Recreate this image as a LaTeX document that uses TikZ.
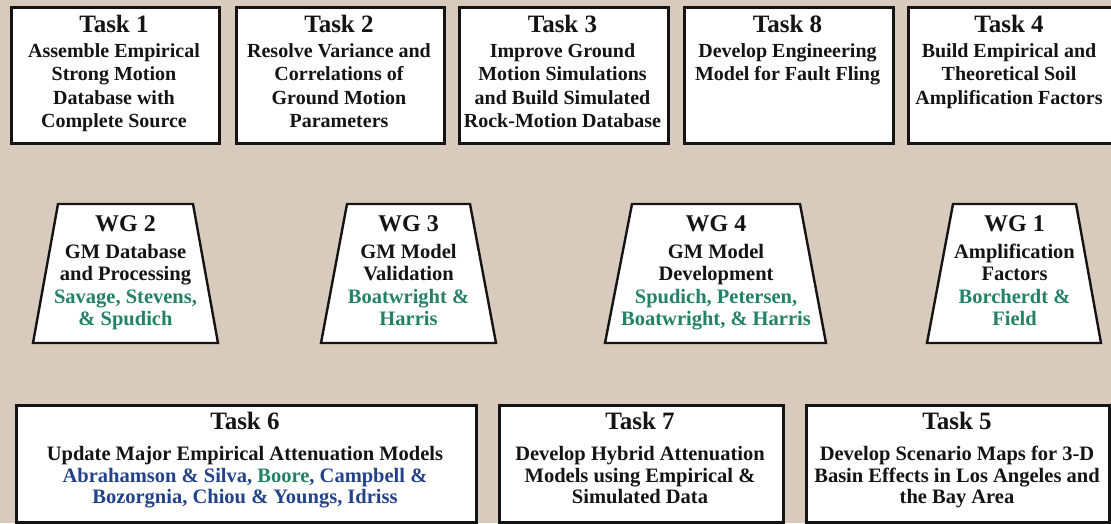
\documentclass[tikz,border=0pt]{standalone}
\usepackage{fontspec}
\setmainfont{Liberation Serif}
\definecolor{bgtan}{RGB}{216,202,188}
\definecolor{gmgreen}{RGB}{36,130,100}
\definecolor{gmblue}{RGB}{34,66,140}
\definecolor{ink}{RGB}{20,20,20}
\newcommand{\ttl}{\fontsize{25}{25}\selectfont}
\newcommand{\wgt}{\fontsize{24}{24}\selectfont}
\begin{document}
\begin{tikzpicture}[x=1pt,y=-1pt,
  box/.style={draw=ink,line width=2.6pt,fill=white,anchor=north west,inner sep=0pt},
  trap/.style={draw=ink,line width=2.4pt,fill=white,line join=miter},
  txt/.style={anchor=north,align=center,text=ink,inner sep=0pt,font=\bfseries\fontsize{20}{23.5}\selectfont},
  wtxt/.style={anchor=north,align=center,text=ink,inner sep=0pt,font=\bfseries\fontsize{20.5}{22.5}\selectfont},
  btxt/.style={anchor=north,align=center,text=ink,inner sep=0pt,font=\bfseries\fontsize{20.5}{21.5}\selectfont}]
\fill[bgtan] (0,0) rectangle (1111,523);
\useasboundingbox (0,0) rectangle (1111,523);
% top row
\node[box,minimum width=208pt,minimum height=136pt] (b1) at (10,6) {};
\node[box,minimum width=208pt,minimum height=136pt] (b2) at (235,6) {};
\node[box,minimum width=209pt,minimum height=136pt] (b3) at (458,6) {};
\node[box,minimum width=209pt,minimum height=136pt] (b8) at (683,6) {};
\node[box,minimum width=210pt,minimum height=136pt] (b4) at (907,6) {};
\node[txt] (t1) at (114,14.5) {{\ttl Task 1}\\[1.5pt]Assemble Empirical\\Strong Motion\\Database with\\Complete Source};
\node[txt] (t2) at (339,14.5) {{\ttl Task 2}\\[1.5pt]Resolve Variance and\\Correlations of\\Ground Motion\\Parameters};
\node[txt] (t3) at (562.5,14.5) {{\ttl Task 3}\\[1.5pt]Improve Ground\\Motion Simulations\\and Build Simulated\\Rock-Motion Database};
\node[txt] (t8) at (787.5,14.5) {{\ttl Task 8}\\[1.5pt]Develop Engineering\\Model for Fault Fling};
\node[txt] (t4) at (1009,14.5) {{\ttl Task 4}\\[1.5pt]Build Empirical and\\Theoretical Soil\\Amplification Factors};
% working groups
\draw[trap] (58,204) -- (193,204) -- (218,343) -- (33,343) -- cycle;
\draw[trap] (347,204) -- (470,204) -- (496,343) -- (321,343) -- cycle;
\draw[trap] (632,204) -- (800,204) -- (826,343) -- (605,343) -- cycle;
\draw[trap] (953,204) -- (1076,204) -- (1101,343) -- (927,343) -- cycle;
\node[wtxt] (w2) at (125.5,215) {{\wgt WG 2}\\[4.5pt]GM Database\\and Processing\\\textcolor{gmgreen}{Savage, Stevens,}\\\textcolor{gmgreen}{\& Spudich}};
\node[wtxt] (w3) at (408.5,215) {{\wgt WG 3}\\[4.5pt]GM Model\\Validation\\\textcolor{gmgreen}{Boatwright \&}\\\textcolor{gmgreen}{Harris}};
\node[wtxt] (w4) at (716,215) {{\wgt WG 4}\\[4.5pt]GM Model\\Development\\\textcolor{gmgreen}{Spudich, Petersen,}\\\textcolor{gmgreen}{Boatwright, \& Harris}};
\node[wtxt] (w1) at (1014.5,215) {{\wgt WG 1}\\[4.5pt]Amplification\\Factors\\\textcolor{gmgreen}{Borcherdt \&}\\\textcolor{gmgreen}{Field}};
% bottom row
\node[box,minimum width=460pt,minimum height=117pt] (b6) at (15,404) {};
\node[box,minimum width=284pt,minimum height=117pt] (b7) at (498,404) {};
\node[box,minimum width=303pt,minimum height=117pt] (b5) at (805,404) {};
\node[btxt] (t6) at (245,411.5) {{\ttl Task 6}\\[10pt]Update Major Empirical Attenuation Models\\\textcolor{gmblue}{Abrahamson \& Silva, }\textcolor{gmgreen}{Boore}\textcolor{gmblue}{, Campbell \&}\\\textcolor{gmblue}{Bozorgnia, Chiou \& Youngs, Idriss}};
\node[btxt] (t7) at (640,411.5) {{\ttl Task 7}\\[10pt]Develop Hybrid Attenuation\\Models using Empirical \&\\Simulated Data};
\node[btxt] (t5) at (957,411.5) {{\ttl Task 5}\\[10pt]Develop Scenario Maps for 3-D\\Basin Effects in Los Angeles and\\the Bay Area};
\end{tikzpicture}
\end{document}
